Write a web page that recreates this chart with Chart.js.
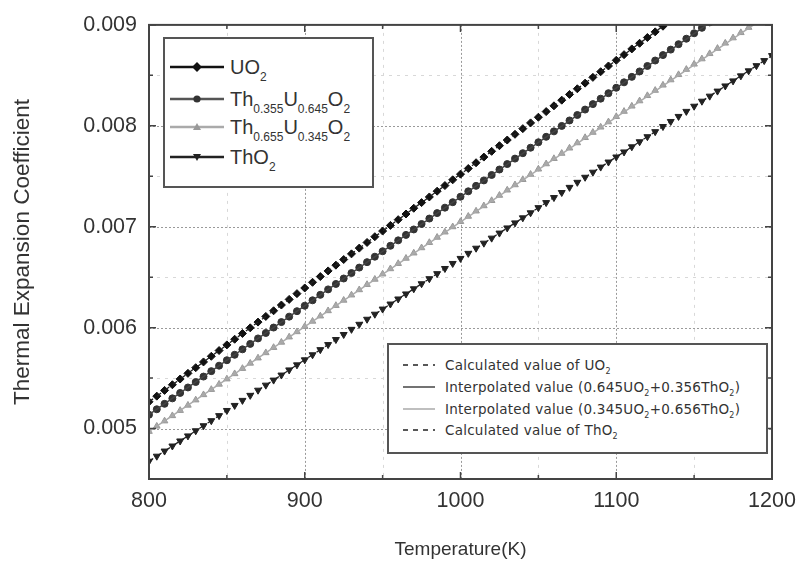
<!DOCTYPE html>
<html><head><meta charset="utf-8">
<script src="https://cdn.jsdelivr.net/npm/chart.js@4"></script>
<style>
body{margin:0;background:#fff;}
#wrap{position:relative;width:805px;height:564px;font-family:"Liberation Sans",Arial,sans-serif;color:#333;}
#c{position:absolute;left:0;top:0;}
.leg{position:absolute;background:#fff;border:2px solid #555;box-sizing:border-box;}
.row{position:absolute;left:0;height:24px;display:flex;align-items:center;white-space:nowrap;}
.row svg{flex:none;}
#leg1 .txt{font-size:20px;margin-left:4px;}
#leg1 sub{font-size:12px;vertical-align:-7px;line-height:0;}
#leg2 .txt{font-family:"DejaVu Sans",sans-serif;font-size:13.5px;margin-left:8px;letter-spacing:0.25px;}
#leg2 sub{font-size:8px;vertical-align:-4px;line-height:0;}
</style></head>
<body>
<div id="wrap">
<canvas id="c" width="805" height="564"></canvas>
<div class="leg" id="leg1" style="left:163px;top:37px;width:211px;height:151px;">
  <div class="row" style="top:16px;left:3px;"><svg width="58" height="24"><line x1="2" y1="12" x2="56" y2="12" stroke="#111" stroke-width="2.5"/><rect x="25.5" y="8.5" width="7" height="7" fill="#111" transform="rotate(45 29 12)"/></svg><span class="txt">UO<sub>2</sub></span></div>
  <div class="row" style="top:48px;left:3px;"><svg width="58" height="24"><line x1="2" y1="12" x2="56" y2="12" stroke="#555" stroke-width="2.5"/><circle cx="29" cy="12" r="3.6" fill="#333"/></svg><span class="txt">Th<sub>0.355</sub>U<sub>0.645</sub>O<sub>2</sub></span></div>
  <div class="row" style="top:76px;left:3px;"><svg width="58" height="24"><line x1="2" y1="12" x2="56" y2="12" stroke="#aaa" stroke-width="2.5"/><polygon points="29,8 33,15 25,15" fill="#999"/></svg><span class="txt">Th<sub>0.655</sub>U<sub>0.345</sub>O<sub>2</sub></span></div>
  <div class="row" style="top:106px;left:3px;"><svg width="58" height="24"><line x1="2" y1="12" x2="56" y2="12" stroke="#222" stroke-width="2.5"/><polygon points="25,9 33,9 29,16" fill="#222"/></svg><span class="txt">ThO<sub>2</sub></span></div>
</div>
<div class="leg" id="leg2" style="left:387px;top:343px;width:381px;height:111px;">
  <div class="row" style="top:8px;left:12px;"><svg width="36" height="24"><line x1="2" y1="12" x2="34" y2="12" stroke="#222" stroke-width="1.3" stroke-dasharray="5,5"/></svg><span class="txt">Calculated value of UO<sub>2</sub></span></div>
  <div class="row" style="top:30px;left:12px;"><svg width="36" height="24"><line x1="2" y1="12" x2="34" y2="12" stroke="#444" stroke-width="1.5"/></svg><span class="txt">Interpolated value (0.645UO<sub>2</sub>+0.356ThO<sub>2</sub>)</span></div>
  <div class="row" style="top:52px;left:12px;"><svg width="36" height="24"><line x1="2" y1="12" x2="34" y2="12" stroke="#aaa" stroke-width="1.5"/></svg><span class="txt">Interpolated value (0.345UO<sub>2</sub>+0.656ThO<sub>2</sub>)</span></div>
  <div class="row" style="top:73px;left:12px;"><svg width="36" height="24"><line x1="2" y1="12" x2="34" y2="12" stroke="#222" stroke-width="1.3" stroke-dasharray="5,5"/></svg><span class="txt">Calculated value of ThO<sub>2</sub></span></div>
</div>
</div>
<script>
// Temperature grid (K) of the simulated points
const temps = [800,805,810,815,820,825,830,835,840,845,850,855,860,865,870,875,880,885,890,895,
900,905,910,915,920,925,930,935,940,945,950,955,960,965,970,975,980,985,990,995,
1000,1005,1010,1015,1020,1025,1030,1035,1040,1045,1050,1055,1060,1065,1070,1075,1080,1085,1090,1095,
1100,1105,1110,1115,1120,1125,1130,1135,1140,1145,1150,1155,1160,1165,1170,1175,1180,1185,1190,1195,1200];

// Thermal expansion coefficient values
const uo2 = [0.005265,0.005321,0.005378,0.005434,0.005491,0.005547,0.005603,0.005660,0.005716,0.005773,
0.005829,0.005885,0.005942,0.005998,0.006055,0.006111,0.006167,0.006224,0.006280,0.006337,
0.006393,0.006449,0.006506,0.006562,0.006619,0.006675,0.006731,0.006788,0.006844,0.006901,
0.006957,0.007013,0.007070,0.007126,0.007183,0.007239,0.007295,0.007352,0.007408,0.007465,
0.007521,0.007577,0.007634,0.007690,0.007747,0.007803,0.007859,0.007916,0.007972,0.008029,
0.008085,0.008141,0.008198,0.008254,0.008311,0.008367,0.008423,0.008480,0.008536,0.008593,
0.008649,0.008705,0.008762,0.008818,0.008875,0.008931,0.008987,0.009044];

const th355 = [0.005137,0.005191,0.005245,0.005299,0.005353,0.005407,0.005461,0.005515,0.005569,0.005623,
0.005677,0.005731,0.005785,0.005839,0.005893,0.005947,0.006001,0.006055,0.006109,0.006163,
0.006217,0.006271,0.006325,0.006379,0.006433,0.006487,0.006541,0.006595,0.006649,0.006703,
0.006757,0.006811,0.006865,0.006919,0.006973,0.007027,0.007081,0.007135,0.007189,0.007243,
0.007297,0.007351,0.007405,0.007459,0.007513,0.007567,0.007621,0.007675,0.007729,0.007783,
0.007837,0.007891,0.007945,0.007999,0.008053,0.008107,0.008161,0.008215,0.008269,0.008323,
0.008377,0.008431,0.008485,0.008539,0.008593,0.008647,0.008701,0.008755,0.008809,0.008863,
0.008917,0.008971,0.009025];

const th655 = [0.004971,0.005023,0.005075,0.005127,0.005179,0.005231,0.005283,0.005335,0.005387,0.005439,
0.005491,0.005543,0.005595,0.005647,0.005699,0.005751,0.005803,0.005855,0.005907,0.005959,
0.006011,0.006063,0.006115,0.006167,0.006219,0.006271,0.006323,0.006375,0.006427,0.006479,
0.006531,0.006583,0.006635,0.006687,0.006739,0.006791,0.006843,0.006895,0.006947,0.006999,
0.007051,0.007103,0.007155,0.007207,0.007259,0.007311,0.007363,0.007415,0.007467,0.007519,
0.007571,0.007623,0.007675,0.007727,0.007779,0.007831,0.007883,0.007935,0.007987,0.008039,
0.008091,0.008143,0.008195,0.008247,0.008299,0.008351,0.008403,0.008455,0.008507,0.008559,
0.008611,0.008663,0.008715,0.008767,0.008819,0.008871,0.008923,0.008975,0.009027,0.009079,0.009131];

const tho2 = [0.004676,0.004726,0.004777,0.004827,0.004877,0.004927,0.004978,0.005028,0.005078,0.005128,
0.005179,0.005229,0.005279,0.005329,0.005380,0.005430,0.005480,0.005530,0.005581,0.005631,
0.005681,0.005731,0.005782,0.005832,0.005882,0.005932,0.005983,0.006033,0.006083,0.006133,
0.006184,0.006234,0.006284,0.006334,0.006385,0.006435,0.006485,0.006535,0.006586,0.006636,
0.006686,0.006736,0.006787,0.006837,0.006887,0.006937,0.006988,0.007038,0.007088,0.007138,
0.007189,0.007239,0.007289,0.007339,0.007390,0.007440,0.007490,0.007540,0.007591,0.007641,
0.007691,0.007741,0.007792,0.007842,0.007892,0.007942,0.007993,0.008043,0.008093,0.008143,
0.008194,0.008244,0.008294,0.008344,0.008395,0.008445,0.008495,0.008545,0.008596,0.008646,0.008696];

// Fitted / interpolated straight lines: endpoints
const fitT = [800, 1200];
const fitUO2 = [0.005265, 0.009777];
const fit645 = [0.005137, 0.009453];
const fit345 = [0.004971, 0.009123];
const fitThO2 = [0.004676, 0.008696];

// Axis ticks
const xTicks = [800, 900, 1000, 1100, 1200];
const xMinor = [850, 950, 1050, 1150];
const yTicks = [0.005, 0.006, 0.007, 0.008, 0.009];
const yMinor = [0.0055, 0.0065, 0.0075, 0.0085];

const pts = (xs, ys) => ys.map((v, i) => ({x: xs[i], y: v}));
const FONT = '"Liberation Sans", Arial, sans-serif';

const frame = {
  id: 'frame',
  beforeDatasetsDraw(chart) {
    const {ctx, chartArea: a, scales: {x, y}} = chart;
    ctx.save();
    ctx.lineWidth = 1;
    ctx.strokeStyle = '#d8d8d8'; ctx.setLineDash([3, 5]);
    xMinor.forEach(v => { const px = Math.round(x.getPixelForValue(v)) + 0.5; ctx.beginPath(); ctx.moveTo(px, a.top); ctx.lineTo(px, a.bottom); ctx.stroke(); });
    yMinor.forEach(v => { const py = Math.round(y.getPixelForValue(v)) + 0.5; ctx.beginPath(); ctx.moveTo(a.left, py); ctx.lineTo(a.right, py); ctx.stroke(); });
    ctx.strokeStyle = '#9a9a9a'; ctx.setLineDash([2, 2]);
    xTicks.slice(1, -1).forEach(v => { const px = Math.round(x.getPixelForValue(v)) + 0.5; ctx.beginPath(); ctx.moveTo(px, a.top); ctx.lineTo(px, a.bottom); ctx.stroke(); });
    yTicks.slice(0, -1).forEach(v => { const py = Math.round(y.getPixelForValue(v)) + 0.5; ctx.beginPath(); ctx.moveTo(a.left, py); ctx.lineTo(a.right, py); ctx.stroke(); });
    ctx.restore();
  },
  afterDraw(chart) {
    const {ctx, chartArea: a, scales: {x, y}} = chart;
    ctx.save();
    ctx.strokeStyle = '#444'; ctx.lineWidth = 2; ctx.setLineDash([]);
    ctx.strokeRect(a.left, a.top, a.right - a.left, a.bottom - a.top);
    ctx.lineWidth = 1.5;
    const tickX = (v, len) => { const px = x.getPixelForValue(v); ctx.beginPath(); ctx.moveTo(px, a.bottom); ctx.lineTo(px, a.bottom - len); ctx.moveTo(px, a.top); ctx.lineTo(px, a.top + len); ctx.stroke(); };
    const tickY = (v, len) => { const py = y.getPixelForValue(v); ctx.beginPath(); ctx.moveTo(a.left, py); ctx.lineTo(a.left + len, py); ctx.moveTo(a.right, py); ctx.lineTo(a.right - len, py); ctx.stroke(); };
    xTicks.forEach(v => tickX(v, 7)); xMinor.forEach(v => tickX(v, 4));
    yTicks.forEach(v => tickY(v, 7)); yMinor.forEach(v => tickY(v, 4));
    ctx.restore();
  }
};

new Chart(document.getElementById('c'), {
  type: 'scatter',
  data: {
    datasets: [
      {label: 'Calculated value of UO2', data: pts(fitT, fitUO2), showLine: true, borderColor: '#222', borderWidth: 1.3, borderDash: [5, 5], pointRadius: 0},
      {label: 'Interpolated value (0.645UO2+0.356ThO2)', data: pts(fitT, fit645), showLine: true, borderColor: '#444', borderWidth: 1.5, pointRadius: 0},
      {label: 'Interpolated value (0.345UO2+0.656ThO2)', data: pts(fitT, fit345), showLine: true, borderColor: '#aaa', borderWidth: 1.5, pointRadius: 0},
      {label: 'Calculated value of ThO2', data: pts(fitT, fitThO2), showLine: true, borderColor: '#222', borderWidth: 1.3, borderDash: [5, 5], pointRadius: 0},
      {label: 'UO2', data: pts(temps, uo2), showLine: false, pointStyle: 'rectRot', pointRadius: 4, backgroundColor: '#111', borderColor: '#111', borderWidth: 1},
      {label: 'Th0.355U0.645O2', data: pts(temps, th355), showLine: false, pointStyle: 'circle', pointRadius: 3.5, backgroundColor: '#333', borderColor: '#333', borderWidth: 1},
      {label: 'Th0.655U0.345O2', data: pts(temps, th655), showLine: false, pointStyle: 'triangle', pointRadius: 3.8, backgroundColor: '#aaa', borderColor: '#999', borderWidth: 1},
      {label: 'ThO2', data: pts(temps, tho2), showLine: false, pointStyle: 'triangle', rotation: 180, pointRadius: 4, backgroundColor: '#222', borderColor: '#222', borderWidth: 1}
    ]
  },
  options: {
    responsive: false, animation: false,
    layout: {padding: {top: 21, right: 33, left: 0, bottom: 0}},
    plugins: {legend: {display: false}, tooltip: {enabled: false}},
    scales: {
      x: {
        type: 'linear', min: 800, max: 1200,
        afterBuildTicks: s => { s.ticks = xTicks.map(v => ({value: v})); },
        afterFit: s => { s.height = 85; },
        grid: {display: false, drawTicks: false}, border: {display: false},
        ticks: {color: '#333', font: {family: FONT, size: 21.5}, padding: 9, maxRotation: 0, callback: v => String(v)},
        title: {display: true, text: 'Temperature(K)', color: '#333', font: {family: FONT, size: 19}, padding: {top: 0, bottom: 3}}
      },
      y: {
        min: 0.0045, max: 0.009,
        afterBuildTicks: s => { s.ticks = yTicks.map(v => ({value: v})); },
        afterFit: s => { s.width = 149; },
        grid: {display: false, drawTicks: false}, border: {display: false},
        ticks: {color: '#333', font: {family: FONT, size: 21.5}, padding: 12, callback: v => v.toFixed(3)},
        title: {display: true, text: 'Thermal Expansion Coefficient', color: '#333', font: {family: FONT, size: 22.5}, padding: {top: 9, bottom: 0}}
      }
    }
  },
  plugins: [frame]
});
</script>
</body></html>
